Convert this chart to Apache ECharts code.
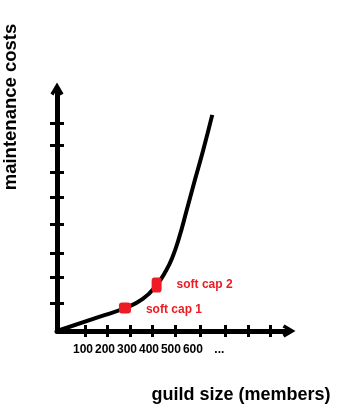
<!DOCTYPE html>
<html>
<head>
<meta charset="utf-8">
<script src="https://cdn.jsdelivr.net/npm/echarts@6/dist/echarts.min.js"></script>
<style>
  html, body { margin: 0; padding: 0; background: #fff; }
  #chart { width: 360px; height: 420px; }
</style>
</head>
<body>
<div id="chart"></div>
<script>
// curve (guild size, cost)
var curveX = [0, 195, 309, 390, 453, 495, 525, 555, 590, 627, 665, 706]
var curveY = [0, 5.9, 9.5, 13.3, 19.0, 24.8, 30.5, 38.5, 50.0, 62.4, 74.8, 89.3]

// the two red soft cap marks
var capNames = ['soft cap 1', 'soft cap 2']
var capX = [309, 453]
var capY = [9.5, 19.0]

// hand drawn tick marks and the labels under the x axis
var xTickValues = [127, 227, 332, 432, 536, 650, 764, 868, 968]
var yTickValues = [11.6, 22.3, 32.2, 44.2, 55.4, 65.7, 76.9, 86.0]
var xLabelValues = [100, 200, 300, 400, 500, 600, 720]

var font = 'Liberation Sans, Arial, sans-serif'
var red = '#ed1c24'
var arrow = 'path://M6.5,0 L13,11 L10,13 L6.5,6 L3,13 L0,11 Z'

var myChart = echarts.init(document.getElementById('chart'))

var curveData = curveX.map(function (x, i) { return [x, curveY[i]] })
var capSizes = [[12, 11], [10, 15]]
var capData = capNames.map(function (n, i) {
  return { name: n, value: [capX[i], capY[i]], symbolSize: capSizes[i],
    label: { offset: i === 0 ? [0, 2] : [0, 0] } }
})

// one axis draws line, outer ticks and labels; a twin adds the inner half of each tick
function xAxisOf(inside) {
  return {
    type: 'value', min: 0, max: 1055, position: 'bottom', offset: 0,
    splitLine: { show: false },
    axisLine: inside ? { show: true, onZero: false, lineStyle: { opacity: 0 } } : {
      show: true, onZero: false, symbol: ['none', arrow], symbolSize: [13, 14],
      lineStyle: { color: '#000', width: 5 }
    },
    axisTick: { show: true, inside: inside, length: 6, customValues: xTickValues,
      lineStyle: { color: '#000', width: 3, opacity: 1 } },
    axisLabel: inside ? { show: false } : {
      show: true, customValues: xLabelValues, margin: 13, padding: [0, 0, 0, 8],
      color: '#000', fontFamily: font, fontWeight: 'bold', fontSize: 12,
      formatter: function (v) { return v > 650 ? '...' : String(v) }
    }
  }
}
function yAxisOf(inside) {
  return {
    type: 'value', min: 0, max: 100, position: 'left', offset: 0,
    splitLine: { show: false },
    axisLine: inside ? { show: true, onZero: false, lineStyle: { opacity: 0 } } : {
      show: true, onZero: false, symbol: ['none', arrow], symbolSize: [13, 14],
      lineStyle: { color: '#000', width: 5 }
    },
    axisTick: { show: true, inside: inside, length: 7, customValues: yTickValues,
      lineStyle: { color: '#000', width: 3, opacity: 1 } },
    axisLabel: { show: false }
  }
}

myChart.setOption({
  animation: false,
  grid: { left: 57, right: 71, top: 89, bottom: 89, outerBoundsMode: 'none' },
  xAxis: [xAxisOf(false), xAxisOf(true)],
  yAxis: [yAxisOf(false), yAxisOf(true)],
  graphic: [
    { type: 'text', x: 11, y: 107, rotation: Math.PI / 2,
      style: { text: 'maintenance costs', font: 'bold 18.5px ' + font, fill: '#000',
        align: 'center', verticalAlign: 'middle' } },
    { type: 'text', x: 241, y: 395,
      style: { text: 'guild size (members)', font: 'bold 18px ' + font, fill: '#000',
        align: 'center', verticalAlign: 'middle' } }
  ],
  series: [
    {
      type: 'line', data: curveData, smooth: 0.5, showSymbol: false,
      lineStyle: { color: '#000', width: 4 }
    },
    {
      type: 'scatter', data: capData, symbol: 'roundRect', z: 3,
      itemStyle: { color: red, opacity: 1 },
      label: { show: true, position: 'right', distance: 15, formatter: '{b}',
        color: red, fontFamily: font, fontWeight: 'bold', fontSize: 12 }
    }
  ]
})
</script>
</body>
</html>
